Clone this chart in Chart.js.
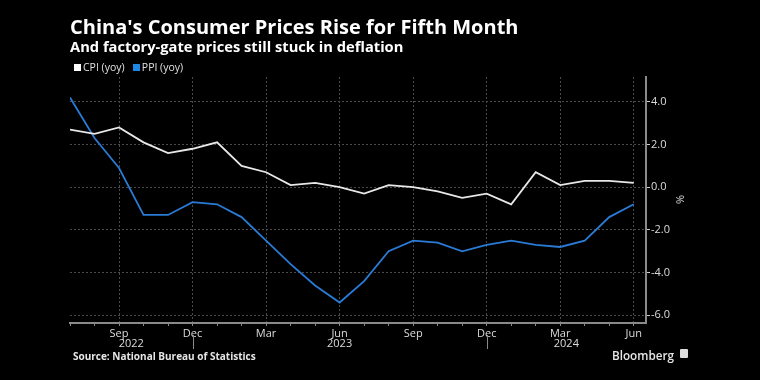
<!DOCTYPE html>
<html>
<head>
<meta charset="utf-8">
<script src="https://cdn.jsdelivr.net/npm/chart.js@4/dist/chart.umd.min.js"></script>
<style>
  html, body { margin:0; padding:0; background:#000; width:760px; height:380px; overflow:hidden; }
  #wrap { position:relative; width:760px; height:380px; }
  canvas { position:absolute; left:0; top:0; }
  .t { position:absolute; color:#fff; font-family:"Open Sans", "Liberation Sans", sans-serif; white-space:nowrap; }
  #title { left:70px; top:17px; font-size:20px; line-height:20px; font-weight:700; }
  #subtitle { left:70px; top:39px; font-size:14.7px; line-height:15px; font-weight:700; }
  #legend { left:74px; top:62px; font-size:10.5px; line-height:10px; color:#e0e0e0; }
  #legend .sw { display:inline-block; width:7px; height:7px; margin-right:2px; vertical-align:0px; }
  #source { left:73px; top:351px; font-size:10px; line-height:10px; font-weight:700; color:#e6e6e6; }
  #unit { left:676px; top:194px; font-size:11px; line-height:11px; color:#ddd; transform:rotate(90deg); }
  #brand { left:612px; top:349px; font-size:11.7px; line-height:12px; font-weight:600; color:#e6e6e6; }
  #logo { position:absolute; left:680px; top:349px; width:8px; height:9px; background:#ddd; border-radius:1px; }
</style>
</head>
<body>
<div id="wrap">
  <canvas id="c" width="760" height="380"></canvas>
  <div class="t" id="title">China's Consumer Prices Rise for Fifth Month</div>
  <div class="t" id="subtitle">And factory-gate prices still stuck in deflation</div>
  <div class="t" id="legend"><span class="sw" style="background:#ffffff"></span>CPI (yoy)&nbsp;&nbsp;&nbsp;<span class="sw" style="background:#1e88e5"></span>PPI (yoy)</div>
  <div class="t" id="unit">%</div>
  <div class="t" id="source">Source: National Bureau of Statistics</div>
  <div class="t" id="brand">Bloomberg</div>
  <div id="logo"></div>
</div>
<script>
// ---- data (monthly, Jul 2022 .. Jun 2024) ----
const months = ['Jul','Aug','Sep','Oct','Nov','Dec','Jan','Feb','Mar','Apr','May','Jun',
                'Jul','Aug','Sep','Oct','Nov','Dec','Jan','Feb','Mar','Apr','May','Jun'];
const cpi = [2.7, 2.5, 2.8, 2.1, 1.6, 1.8, 2.1, 1.0, 0.7, 0.1, 0.2, 0.0,
             -0.3, 0.1, 0.0, -0.2, -0.5, -0.3, -0.8, 0.7, 0.1, 0.3, 0.3, 0.2];
const ppi = [4.2, 2.3, 0.9, -1.3, -1.3, -0.7, -0.8, -1.4, -2.5, -3.6, -4.6, -5.4,
             -4.4, -3.0, -2.5, -2.6, -3.0, -2.7, -2.5, -2.7, -2.8, -2.5, -1.4, -0.8];
const labeledMonths = ['Sep','Dec','Mar','Jun'];
const yTicks = [-6, -4, -2, 0, 2, 4];
const yMin = -6.36, yMax = 5.16;
const years = ['2022','2023','2024'];
const yearBreaks = [5, 17];          // month index where year separator lines sit (Dec)
const xMin = 0, xMax = 23.5;

const gridColor = '#4a4a4a';
const axisColor = '#8a8a8a';
const textColor = '#dcdcdc';
const fontFam = '"Open Sans", "Liberation Sans", sans-serif';

const yearPlugin = {
  id: 'yearLabels',
  afterDraw(chart) {
    const x = chart.scales.x;
    const ctx = chart.ctx;
    const bounds = [x.min].concat(yearBreaks, [x.max]);
    ctx.save();
    ctx.fillStyle = textColor;
    ctx.font = '11px ' + fontFam;
    ctx.textAlign = 'center';
    ctx.textBaseline = 'middle';
    for (let i = 0; i < years.length; i++) {
      const a = x.getPixelForValue(bounds[i]);
      const b = x.getPixelForValue(bounds[i + 1]);
      ctx.fillText(years[i], (a + b) / 2, 344);
    }
    ctx.strokeStyle = axisColor;
    ctx.lineWidth = 1;
    yearBreaks.forEach(v => {
      const px = Math.round(x.getPixelForValue(v)) + 0.5;
      ctx.beginPath();
      ctx.moveTo(px, 335);
      ctx.lineTo(px, 349);
      ctx.stroke();
    });
    ctx.restore();
  }
};

new Chart(document.getElementById('c'), {
  type: 'line',
  data: {
    datasets: [
      { label: 'CPI (yoy)', data: cpi.map((v, i) => ({ x: i, y: v })),
        borderColor: '#e8e8e8', borderWidth: 1.8, pointRadius: 0, tension: 0, fill: false },
      { label: 'PPI (yoy)', data: ppi.map((v, i) => ({ x: i, y: v })),
        borderColor: '#2a7bd6', borderWidth: 1.8, pointRadius: 0, tension: 0, fill: false }
    ]
  },
  options: {
    responsive: false,
    animation: false,
    layout: { padding: { left: 70, top: 77, right: 0, bottom: 0 } },
    plugins: { legend: { display: false }, tooltip: { enabled: false } },
    scales: {
      x: {
        type: 'linear', min: xMin, max: xMax,
        afterBuildTicks: s => { s.ticks = months.map((m, i) => ({ value: i })); },
        afterFit: s => { s.height = 57; },
        ticks: {
          autoSkip: false, maxRotation: 0, padding: 1,
          color: textColor, font: { family: fontFam, size: 11 },
          callback: (v) => labeledMonths.includes(months[v]) ? months[v] : ''
        },
        grid: {
          color: ctx => (ctx.tick && labeledMonths.includes(months[ctx.tick.value])) ? gridColor : 'rgba(0,0,0,0)',
          lineWidth: 1, drawTicks: true, tickLength: 3, tickColor: axisColor, tickWidth: 1
        },
        border: { display: true, color: axisColor, width: 2, dash: [2, 2] }
      },
      y: {
        position: 'right', min: yMin, max: yMax,
        afterBuildTicks: s => { s.ticks = yTicks.map(v => ({ value: v })); },
        afterFit: s => { s.width = 760 - 646; },
        ticks: {
          padding: 1, color: textColor, font: { family: fontFam, size: 11 },
          callback: v => v.toFixed(1)
        },
        grid: { color: gridColor, lineWidth: 1, drawTicks: true, tickLength: 4, tickColor: '#cfcfcf', tickWidth: 1 },
        border: { display: true, color: axisColor, width: 2, dash: [2, 2] }
      }
    }
  },
  plugins: [yearPlugin]
});
</script>
</body>
</html>
